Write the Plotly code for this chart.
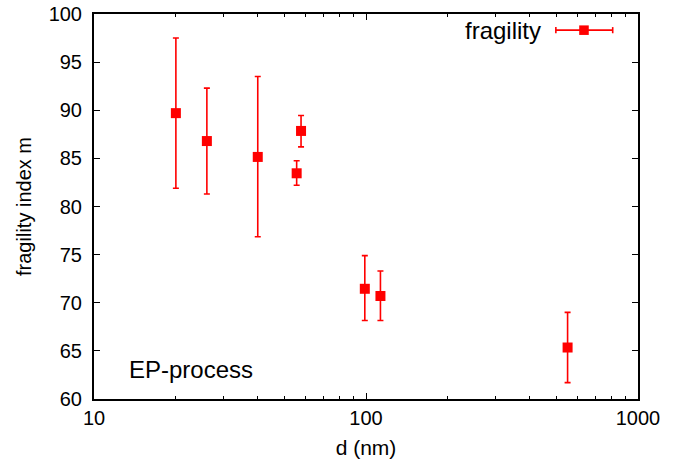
import plotly.graph_objects as go

# Data
d_nm = [20, 26, 40, 55.6, 57.7, 99, 113, 551]
fragility = [89.7, 86.8, 85.15, 83.45, 87.85, 71.45, 70.7, 65.35]
err_plus = [7.8, 5.5, 8.35, 1.3, 1.6, 3.45, 2.6, 3.65]
err_minus = [7.8, 5.5, 8.3, 1.25, 1.65, 3.3, 2.55, 3.65]

x_ticks = [10, 100, 1000]
x_minor = [20, 30, 40, 50, 60, 70, 80, 90, 200, 300, 400, 500, 600, 700, 800, 900]
y_ticks = [60, 65, 70, 75, 80, 85, 90, 95, 100]

RED = "#ff0000"
FONT = "Liberation Sans, Arial, Helvetica, sans-serif"

fig = go.Figure()
fig.add_trace(go.Scatter(
    x=d_nm, y=fragility, mode="markers",
    marker=dict(symbol="square", size=10, color=RED),
    error_y=dict(type="data", symmetric=False, array=err_plus, arrayminus=err_minus,
                 color=RED, thickness=1.6, width=3),
    showlegend=False,
))

axis_common = dict(
    showline=True, linecolor="black", linewidth=2, mirror="ticks",
    ticks="inside", ticklen=6, tickwidth=1.2, tickcolor="black",
    showgrid=False, zeroline=False, automargin=False,
    tickfont=dict(family=FONT, size=20, color="black"),
)

fig.update_xaxes(type="log", range=[1, 3], tickmode="array", tickvals=x_ticks,
                 ticktext=[str(v) for v in x_ticks],
                 minor=dict(tickmode="array", tickvals=x_minor, ticks="inside",
                            ticklen=3, tickwidth=1, tickcolor="black", showgrid=False),
                 title=dict(text="d (nm)", font=dict(family=FONT, size=21, color="black"), standoff=12),
                 **axis_common)
fig.update_yaxes(range=[60, 100], tickmode="array", tickvals=y_ticks,
                 title=dict(text="fragility index m", font=dict(family=FONT, size=20, color="black"), standoff=12),
                 ticklabelstandoff=6,
                 **axis_common)

# Legend drawn manually (gnuplot style key)
ly = 0.958
fig.add_shape(type="line", xref="paper", yref="paper", x0=0.849, x1=0.9535, y0=ly, y1=ly,
              line=dict(color=RED, width=1.6))
for xc in (0.849, 0.9535):
    fig.add_shape(type="line", xref="paper", yref="paper", x0=xc, x1=xc, y0=ly - 0.008, y1=ly + 0.008,
                  line=dict(color=RED, width=1.6))
fig.add_shape(type="rect", xref="paper", yref="paper", x0=0.9007 - 0.0088, x1=0.9007 + 0.0088,
              y0=ly - 0.0124, y1=ly + 0.0124, line=dict(width=0), fillcolor=RED)
fig.add_annotation(text="fragility", xref="paper", yref="paper", x=0.825, y=ly,
                   xanchor="right", yanchor="middle", showarrow=False,
                   font=dict(family=FONT, size=24, color="black"))
fig.add_annotation(text="EP-process", xref="paper", yref="paper", x=0.06, y=0.076,
                   xanchor="left", yanchor="middle", showarrow=False,
                   font=dict(family=FONT, size=24, color="black"))

fig.update_layout(
    width=679, height=468,
    margin=dict(l=94, r=41, t=14, b=69),
    plot_bgcolor="white", paper_bgcolor="white",
    font=dict(family=FONT, size=20, color="black"),
)

fig.write_html("out.html", config={"displayModeBar": False},
               post_script="document.body.style.margin='0';document.body.style.overflow='hidden';")
